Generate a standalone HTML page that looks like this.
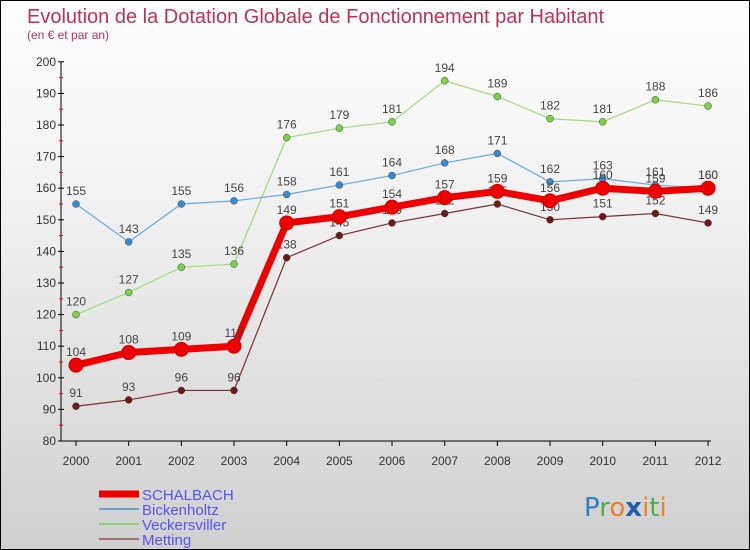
<!DOCTYPE html>
<html><head><meta charset="utf-8"><style>
body{margin:0}
#c{position:relative;width:748px;height:548px;border:1px solid #000;background:linear-gradient(#fff 0%,#f0f0f0 40%,#d0d0d0 100%);overflow:hidden;font-family:"Liberation Sans",sans-serif}
</style></head><body>
<div id="c">
<svg id="s" width="748" height="548">
<text x="26" y="22" font-size="20" fill="#c0305a">Evolution de la Dotation Globale de Fonctionnement par Habitant</text>
<text x="26" y="38" font-size="12" fill="#c0305a">(en € et par an)</text>
<g id="ax"></g><g id="plot"></g><g id="leg"></g>
<text x="583" y="515" font-size="26" font-family="'DejaVu Sans',sans-serif"><tspan fill="#2a7fc0">P</tspan><tspan fill="#4caf50">r</tspan><tspan fill="#f08020">o</tspan><tspan fill="#1f5fb0" font-weight="bold">x</tspan><tspan fill="#f08020">i</tspan><tspan fill="#4caf50">t</tspan><tspan fill="#f08020">i</tspan></text>
</svg></div>
<script>
const years=[2000,2001,2002,2003,2004,2005,2006,2007,2008,2009,2010,2011,2012];
const schalbach=[104,108,109,110,149,151,154,157,159,156,160,159,160];
const bickenholtz=[155,143,155,156,158,161,164,168,171,162,163,161,160];
const veckersviller=[120,127,135,136,176,179,181,194,189,182,181,188,186];
const metting=[91,93,96,96,138,145,149,152,155,150,151,152,149];
const yTicks=[80,90,100,110,120,130,140,150,160,170,180,190,200];
const NS="http://www.w3.org/2000/svg";
const X=i=>75+i*52.67, Y=v=>440-(v-80)*31.6/10;
function mk(t,a,p){const e=document.createElementNS(NS,t);for(const k in a)e.setAttribute(k,a[k]);p.appendChild(e);return e;}
const ax=document.getElementById('ax'),plot=document.getElementById('plot'),leg=document.getElementById('leg');
let l=mk('line',{x1:60,y1:Y(200),x2:60,y2:440,stroke:'#000'},ax);


l=mk('line',{x1:60,y1:440,x2:710,y2:440,stroke:'#000'},ax);


yTicks.forEach(v=>{
 mk('line',{x1:57,y1:Y(v),x2:63,y2:Y(v),stroke:'#000'},ax);
 if(v<200)mk('line',{x1:58,y1:Y(v+5),x2:62,y2:Y(v+5),stroke:'red'},ax);
 const t=mk('text',{x:55,y:Y(v)+4,'font-size':12,fill:'#333','text-anchor':'end'},ax);t.textContent=v;
 
 
});
years.forEach((y,i)=>{
 mk('line',{x1:X(i),y1:440,x2:X(i),y2:445,stroke:'#000'},ax);
 const t=mk('text',{x:X(i),y:464,'font-size':12,fill:'#333','text-anchor':'middle'},ax);t.textContent=y;
 
 
});
const series=[
 {n:'Metting',d:metting,c:'#6b1a1a',w:1.2,r:3.5,lc:'#a07070'},
 {n:'Veckersviller',d:veckersviller,c:'#7ed04a',w:1.2,r:3.5,lc:'#90d070'},
 {n:'Bickenholtz',d:bickenholtz,c:'#3a8ad0',w:1.2,r:3.5,lc:'#70a0c8',lineC:'#6aa8d8'},
 {n:'SCHALBACH',d:schalbach,c:'#ee0000',w:7,r:7,lc:'#ee0000'}];
series.forEach(s=>{
 const g=mk('g',{},plot);
 
 
 mk('polyline',{points:s.d.map((v,i)=>X(i)+','+Y(v)).join(' '),fill:'none',stroke:s.n=='Veckersviller'?'#a0d880':s.n=='Metting'?'#7a3030':s.n=='Bickenholtz'?'#6aa8d8':s.c,'stroke-width':s.w},g);
 s.d.forEach((v,i)=>{
  const c=mk('circle',{cx:X(i),cy:Y(v),r:s.r,fill:s.c,stroke:s.n=='SCHALBACH'?'#c00':'#444','stroke-width':s.n=='SCHALBACH'?1:0.5},g);
  
  
  const t=mk('text',{x:X(i),y:Y(v)-9,'font-size':12,fill:'#444','text-anchor':'middle'},g);t.textContent=v;
  
  
 });
});
const legOrder=[['SCHALBACH','#ee0000',7],['Bickenholtz','#70a0c8',2],['Veckersviller','#90d070',2],['Metting','#a07070',2]];
legOrder.forEach((e,i)=>{
 const yy=493+i*15;
 const g=mk('g',{},leg);
 
 
 mk('line',{x1:98,y1:yy,x2:138,y2:yy,stroke:e[1],'stroke-width':e[2]},g);
 const t=mk('text',{x:141,y:yy+6,'font-size':15,fill:'#5555ee'},g);t.textContent=e[0];
});
</script>
</body></html>
